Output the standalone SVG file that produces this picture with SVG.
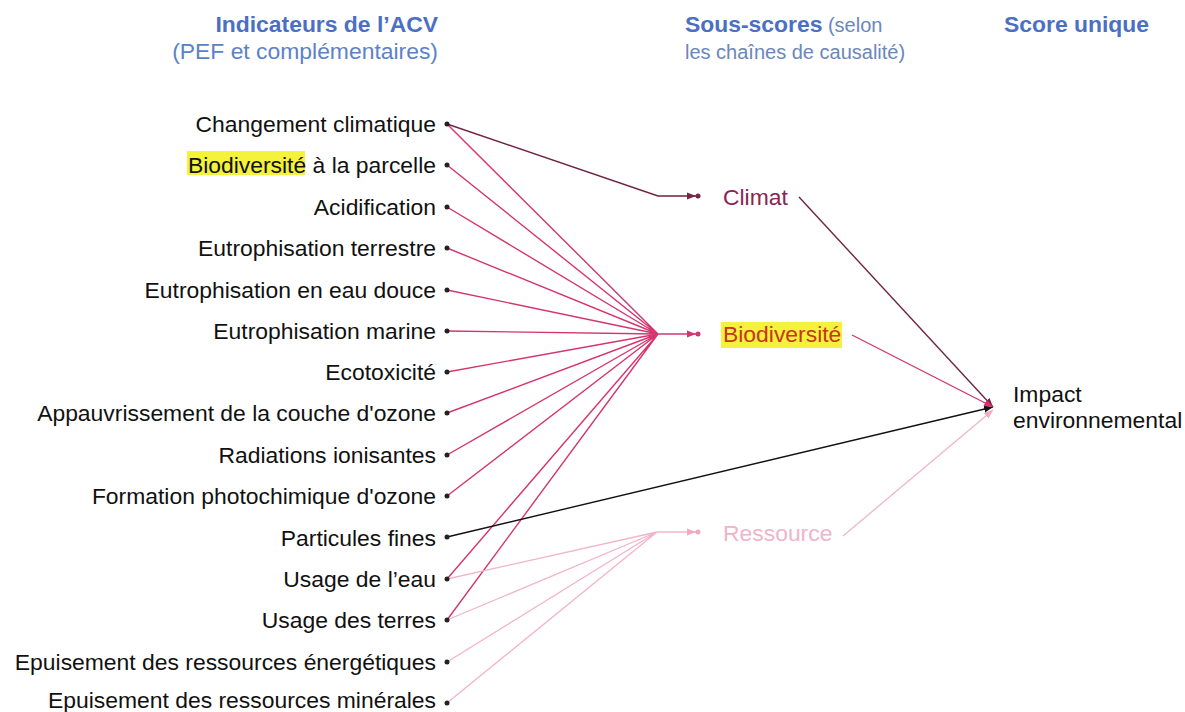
<svg xmlns="http://www.w3.org/2000/svg" width="1185" height="712" viewBox="0 0 1185 712">
<style>
text{font-family:"Liberation Sans",Arial,sans-serif;font-size:22.9px}
.lbl{text-anchor:end;fill:#111}
.h{fill:#4a6fc4;font-weight:bold}
.hs{fill:#6a86bd}
.dot{fill:#222}
.pk{stroke:#d4356f;stroke-width:1.4;fill:none}
.cl{stroke:#6e2342;stroke-width:1.4;fill:none}
.lp{stroke:#f2b4ca;stroke-width:1.3;fill:none}
.bk{stroke:#111;stroke-width:1.4;fill:none}
</style>
<defs>
<marker id="aPk" viewBox="0 0 10 10" refX="10" refY="5" markerWidth="9" markerHeight="9" markerUnits="userSpaceOnUse" orient="auto"><path d="M0,1 L10,5 L0,9 z" fill="#d4356f"/></marker>
<marker id="aCl" viewBox="0 0 10 10" refX="10" refY="5" markerWidth="9" markerHeight="9" markerUnits="userSpaceOnUse" orient="auto"><path d="M0,1 L10,5 L0,9 z" fill="#7a2448"/></marker>
<marker id="aLp" viewBox="0 0 10 10" refX="10" refY="5" markerWidth="9" markerHeight="9" markerUnits="userSpaceOnUse" orient="auto"><path d="M0,1 L10,5 L0,9 z" fill="#f2a8c2"/></marker>
<marker id="aBk" viewBox="0 0 10 10" refX="10" refY="5" markerWidth="9" markerHeight="9" markerUnits="userSpaceOnUse" orient="auto"><path d="M0,1 L10,5 L0,9 z" fill="#111"/></marker>
</defs>
<rect width="1185" height="712" fill="#fff"/>

<g id="headers">
<text x="438" y="32" class="h" text-anchor="end">Indicateurs de l’ACV</text>
<text x="438" y="59" text-anchor="end" style="fill:#5b82c9">(PEF et complémentaires)</text>
<text x="685" y="32"><tspan class="h">Sous-scores</tspan><tspan class="hs" style="font-size:20px"> (selon</tspan></text>
<text x="685" y="59" class="hs" style="font-size:20px">les chaînes de causalité)</text>
<text x="1004" y="32" class="h">Score unique</text>
</g>

<g id="connectors">
<path class="pk" d="M447,124 L658,334 M447,165 L658,334 M447,207 L658,334 M447,248 L658,334 M447,290 L658,334 M447,331 L658,334 M447,372 L658,334 M447,413 L658,334 M447,455 L658,334 M447,496 L658,334 M447,579 L658,334 M447,620 L658,334"/>
<line class="pk" x1="658" y1="334" x2="696" y2="334" marker-end="url(#aPk)"/>
<path class="cl" d="M447,124 L658,196 L696,196" marker-end="url(#aCl)"/>
<path class="lp" d="M447,579 L657,532 M447,620 L657,532 M447,662 L657,532 M447,703 L657,532"/>
<line class="lp" x1="657" y1="532" x2="696" y2="532" marker-end="url(#aLp)"/>
<line class="lp" x1="843" y1="536" x2="993" y2="410" marker-end="url(#aLp)"/>
<line class="bk" x1="447" y1="537" x2="993" y2="407" marker-end="url(#aBk)"/>
<line class="cl" x1="799" y1="197" x2="993" y2="407" marker-end="url(#aCl)"/>
<line class="pk" x1="852" y1="335" x2="993" y2="407" marker-end="url(#aPk)"/>
</g>

<g id="indicators">
<g id="n1"><text class="lbl" x="436" y="132">Changement climatique</text><circle class="dot" cx="447" cy="124" r="2.5"/></g>
<g id="n2"><rect x="187" y="151" width="118" height="24" fill="#f4f23a"/><text class="lbl" x="436" y="173">Biodiversité à la parcelle</text><circle class="dot" cx="447" cy="165" r="2.5"/></g>
<g id="n3"><text class="lbl" x="436" y="215">Acidification</text><circle class="dot" cx="447" cy="207" r="2.5"/></g>
<g id="n4"><text class="lbl" x="436" y="256">Eutrophisation terrestre</text><circle class="dot" cx="447" cy="248" r="2.5"/></g>
<g id="n5"><text class="lbl" x="436" y="298">Eutrophisation en eau douce</text><circle class="dot" cx="447" cy="290" r="2.5"/></g>
<g id="n6"><text class="lbl" x="436" y="339">Eutrophisation marine</text><circle class="dot" cx="447" cy="331" r="2.5"/></g>
<g id="n7"><text class="lbl" x="436" y="380">Ecotoxicité</text><circle class="dot" cx="447" cy="372" r="2.5"/></g>
<g id="n8"><text class="lbl" x="436" y="421">Appauvrissement de la couche d'ozone</text><circle class="dot" cx="447" cy="413" r="2.5"/></g>
<g id="n9"><text class="lbl" x="436" y="463">Radiations ionisantes</text><circle class="dot" cx="447" cy="455" r="2.5"/></g>
<g id="n10"><text class="lbl" x="436" y="504">Formation photochimique d'ozone</text><circle class="dot" cx="447" cy="496" r="2.5"/></g>
<g id="n11"><text class="lbl" x="436" y="546">Particules fines</text><circle class="dot" cx="447" cy="537" r="2.5"/></g>
<g id="n12"><text class="lbl" x="436" y="587">Usage de l’eau</text><circle class="dot" cx="447" cy="579" r="2.5"/></g>
<g id="n13"><text class="lbl" x="436" y="628">Usage des terres</text><circle class="dot" cx="447" cy="620" r="2.5"/></g>
<g id="n14"><text class="lbl" x="436" y="670">Epuisement des ressources énergétiques</text><circle class="dot" cx="447" cy="662" r="2.5"/></g>
<g id="n15"><text class="lbl" x="436" y="708">Epuisement des ressources minérales</text><circle class="dot" cx="447" cy="703" r="2.5"/></g>
</g>

<g id="climat"><circle cx="698" cy="196" r="2.5" fill="#7a2448"/><text x="723" y="205" fill="#8b2454">Climat</text></g>
<g id="biodiversite"><circle cx="698" cy="334" r="2.5" fill="#d4356f"/><rect x="721" y="322" width="121" height="26" fill="#f4f23a"/><text x="723" y="342" fill="#c8361f">Biodiversité</text></g>
<g id="ressource"><circle cx="698" cy="532" r="2.5" fill="#f2a8c2"/><text x="723" y="541" fill="#f0b4c8">Ressource</text></g>
<g id="impact"><text x="1013" y="402" fill="#111">Impact</text><text x="1013" y="428" fill="#111">environnemental</text></g>
</svg>
